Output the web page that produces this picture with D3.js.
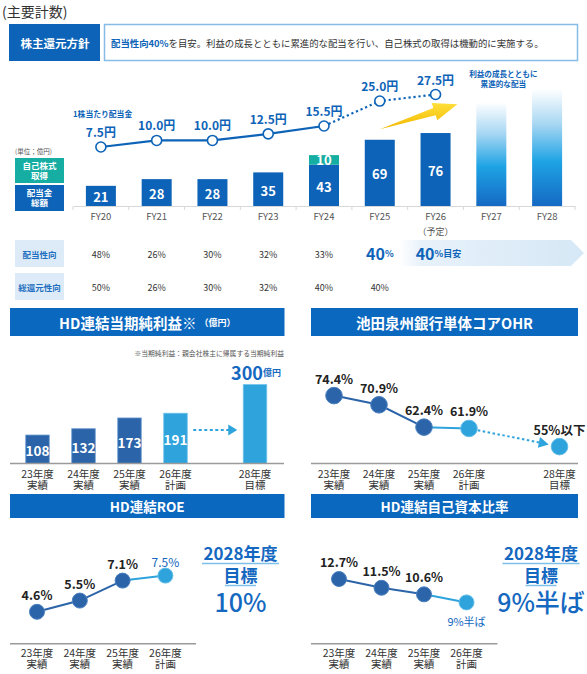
<!DOCTYPE html>
<html>
<head>
<meta charset="utf-8">
<script src="https://cdn.jsdelivr.net/npm/d3@7"></script>
<style>
  body { margin: 0; background: #fff; }
  svg { display: block; font-family: "Noto Sans CJK JP", "Noto Sans", sans-serif; }
</style>
</head>
<body>
<div id="chart"></div>
<script>
// ---- data ----
const fyLabels = ['FY20', 'FY21', 'FY22', 'FY23', 'FY24', 'FY25', 'FY26', 'FY27', 'FY28'];
const dividendTotal = [21, 28, 28, 35, 43, 69, 76]; // 配当金総額 (億円)
const buyback = [0, 0, 0, 0, 10, 0, 0]; // 自己株式取得 (億円)
const futureBars = [108, 122]; // FY27, FY28 illustrative (累進的な配当)
const dps = [7.5, 10.0, 10.0, 12.5, 15.5, 25.0, 27.5]; // 1株当たり配当金 (円)
const payoutRatio = [48, 26, 30, 32, 33, 40];
const totalReturnRatio = [50, 26, 30, 32, 40, 40];
const payoutTarget = 40;

const fiscalYears = [23, 24, 25, 26, 28];
const yearSub = ['実績', '実績', '実績', '計画', '目標'];
const netIncome = [108, 132, 173, 191, 300];
const ohr = [74.4, 70.9, 62.4, 61.9, 55];
const ohrLabels = ['74.4%', '70.9%', '62.4%', '61.9%', '55%以下'];
const roe = [4.6, 5.5, 7.1, 7.5];
const roeLabels = ['4.6%', '5.5%', '7.1%', '7.5%'];
const equityRatio = [12.7, 11.5, 10.6, 9.5];
const equityLabels = ['12.7%', '11.5%', '10.6%', '9%半ば'];

// ---- colours ----
const blue = '#0d63b7';
const teal = '#16ada3';
const titleBlue = '#0b68bf';
const darkPt = '#2b64a8';
const lightPt = '#2ea3dc';
const textBlue = '#1468c0';

const W = 587, H = 674;
const svg = d3.select('#chart').append('svg').attr('width', W).attr('height', H);
const defs = svg.append('defs');

const fg = defs.append('linearGradient').attr('id', 'futureGrad')
  .attr('x1', 0).attr('y1', 0).attr('x2', 0).attr('y2', 1);
[[0, '#ffffff'], [0.3, '#a8d7f3'], [0.62, '#1ea3e4'], [1, '#1569c3']]
  .forEach(([o, c]) => fg.append('stop').attr('offset', o).attr('stop-color', c));

const bg = defs.append('linearGradient').attr('id', 'bandGrad')
  .attr('x1', 0).attr('y1', 0).attr('x2', 1).attr('y2', 0);
[[0, '#ffffff'], [0.12, '#e7f1fa'], [1, '#d6e8f6']]
  .forEach(([o, c]) => bg.append('stop').attr('offset', o).attr('stop-color', c));

const yg = defs.append('linearGradient').attr('id', 'arrowGrad')
  .attr('x1', 0).attr('y1', 0).attr('x2', 0).attr('y2', 1);
[[0, '#ffdf3a'], [1, '#f3b900']]
  .forEach(([o, c]) => yg.append('stop').attr('offset', o).attr('stop-color', c));

// ---- header ----
svg.append('text').attr('x', 2).attr('y', 11).attr('dominant-baseline', 'central')
  .attr('font-size', 14).attr('fill', '#333').text('(主要計数)');

svg.append('rect').attr('x', 9).attr('y', 24).attr('width', 91).attr('height', 37).attr('fill', blue);
svg.append('text').attr('x', 55).attr('y', 43).attr('text-anchor', 'middle')
  .attr('dominant-baseline', 'central').attr('font-size', 11.5).attr('font-weight', 'bold')
  .attr('fill', '#fff').text('株主還元方針');
svg.append('rect').attr('x', 104.5).attr('y', 24.5).attr('width', 473).attr('height', 36)
  .attr('fill', '#fff').attr('stroke', '#86bde6').attr('stroke-width', 1.5);
const policy = svg.append('text').attr('x', 111).attr('y', 43).attr('dominant-baseline', 'central')
  .attr('font-size', 9.4).attr('fill', '#333');
policy.append('tspan').attr('fill', blue).attr('font-weight', 'bold').text('配当性向40%');
policy.append('tspan').text('を目安。利益の成長とともに累進的な配当を行い、自己株式の取得は機動的に実施する。');

// ---- top chart ----
const xTop = d3.scaleBand().domain(fyLabels).range([73, 575]);
const cx = (d) => xTop(d) + xTop.bandwidth() / 2;
const barW = 30;
const yBar = d3.scaleLinear().domain([0, 100]).range([206, 110]);
const yDps = d3.scaleLinear().domain([7.5, 27.5]).range([147, 94.5]);

const topG = svg.append('g');

// axis
const axis = topG.append('g').attr('transform', `translate(0,${yBar(0)})`)
  .call(d3.axisBottom(xTop).tickSize(0).tickPadding(7));
axis.select('.domain').attr('stroke', '#d8d8d8');
axis.selectAll('text').attr('font-size', 9.5).attr('fill', '#555')
  .attr('font-family', '"Noto Sans CJK JP", sans-serif');
topG.append('g').selectAll('line').data(fyLabels.concat(['end']))
  .join('line')
  .attr('x1', (d) => d === 'end' ? xTop.range()[1] : xTop(d))
  .attr('x2', (d) => d === 'end' ? xTop.range()[1] : xTop(d))
  .attr('y1', yBar(0)).attr('y2', yBar(0) + 4)
  .attr('stroke', '#d8d8d8');
topG.append('text').attr('x', cx('FY26')).attr('y', 231).attr('text-anchor', 'middle')
  .attr('dominant-baseline', 'central').attr('font-size', 9).attr('fill', '#555').text('（予定）');

// bars
const barData = dividendTotal.map((v, i) => ({ fy: fyLabels[i], div: v, bb: buyback[i] }));
topG.append('g').selectAll('rect').data(barData).join('rect')
  .attr('x', (d) => cx(d.fy) - barW / 2).attr('width', barW)
  .attr('y', (d) => yBar(d.div)).attr('height', (d) => yBar(0) - yBar(d.div))
  .attr('fill', blue);
topG.append('g').selectAll('rect').data(barData.filter((d) => d.bb > 0)).join('rect')
  .attr('x', (d) => cx(d.fy) - barW / 2).attr('width', barW)
  .attr('y', (d) => yBar(d.div + d.bb)).attr('height', (d) => yBar(d.div) - yBar(d.div + d.bb))
  .attr('fill', teal);
topG.append('g').selectAll('rect').data(futureBars).join('rect')
  .attr('x', (d, i) => cx(fyLabels[7 + i]) - barW / 2).attr('width', barW)
  .attr('y', (d) => yBar(d)).attr('height', (d) => yBar(0) - yBar(d))
  .attr('fill', 'url(#futureGrad)');

const barLabel = topG.append('g').attr('font-size', 13).attr('font-weight', 'bold')
  .attr('fill', '#fff').attr('text-anchor', 'middle').attr('dominant-baseline', 'central');
barLabel.selectAll('text.div').data(barData).join('text').attr('class', 'div')
  .attr('x', (d) => cx(d.fy)).attr('y', (d) => (yBar(d.div) + yBar(0)) / 2 + 1)
  .text((d) => d.div);
barLabel.selectAll('text.bb').data(barData.filter((d) => d.bb > 0)).join('text').attr('class', 'bb')
  .attr('x', (d) => cx(d.fy)).attr('y', (d) => (yBar(d.div + d.bb) + yBar(d.div)) / 2)
  .text((d) => d.bb);

// yellow arrow
(function () {
  const tail = [cx('FY25'), yBar(80)];
  const tip = [cx('FY27') - 34, yBar(106)];
  const dx = tip[0] - tail[0], dy = tip[1] - tail[1];
  const L = Math.hypot(dx, dy);
  const u = [dx / L, dy / L], n = [-u[1], u[0]];
  const b = [tip[0] - u[0] * 24, tip[1] - u[1] * 24];
  const p = (k) => [b[0] + n[0] * k, b[1] + n[1] * k];
  topG.append('path')
    .attr('d', 'M' + [tail, p(-3.8), p(-9), tip, p(9), p(3.8)].map((q) => q.join(',')).join('L') + 'Z')
    .attr('fill', 'url(#arrowGrad)');
})();

// DPS line
const lineGen = d3.line().x((d) => d.x).y((d) => d.y);
const dpsPts = dps.map((v, i) => ({ x: cx(fyLabels[i]), y: yDps(v), v }));
topG.append('path').attr('d', lineGen(dpsPts.slice(0, 5)))
  .attr('fill', 'none').attr('stroke', blue).attr('stroke-width', 2.2);
topG.append('path').attr('d', lineGen(dpsPts.slice(4)))
  .attr('fill', 'none').attr('stroke', blue).attr('stroke-width', 2.2)
  .attr('stroke-dasharray', '2.2,2.8');
topG.append('g').selectAll('circle').data(dpsPts).join('circle')
  .attr('cx', (d) => d.x).attr('cy', (d) => d.y).attr('r', 5)
  .attr('fill', '#fff').attr('stroke', blue).attr('stroke-width', 1.6);
topG.append('g').selectAll('text').data(dpsPts).join('text')
  .attr('x', (d) => d.x).attr('y', (d) => d.y - 15.5).attr('text-anchor', 'middle')
  .attr('dominant-baseline', 'central').attr('font-size', 12).attr('font-weight', 'bold')
  .attr('fill', blue).text((d) => d.v.toFixed(1) + '円');
topG.append('text').attr('x', xTop.range()[0]).attr('y', 113).attr('dominant-baseline', 'central')
  .attr('font-size', 7.8).attr('font-weight', 'bold').attr('fill', blue).text('1株当たり配当金');

const note2 = topG.append('text').attr('text-anchor', 'middle')
  .attr('font-size', 7.6).attr('font-weight', 'bold').attr('fill', blue);
note2.append('tspan').attr('x', cx('FY27') + 12).attr('y', 77).text('利益の成長とともに');
note2.append('tspan').attr('x', cx('FY27') + 12).attr('y', 87).text('累進的な配当');

// legend boxes
topG.append('text').attr('x', 15).attr('y', 151).attr('dominant-baseline', 'central')
  .attr('font-size', 6.5).attr('fill', '#555').text('(単位；億円)');
function legendBox(y, h, fill, lines) {
  topG.append('rect').attr('x', 15).attr('y', y).attr('width', 49).attr('height', h).attr('fill', fill);
  const t = topG.append('text').attr('text-anchor', 'middle')
    .attr('font-size', 8.5).attr('font-weight', 'bold').attr('fill', '#fff');
  lines.forEach((s, i) => {
    t.append('tspan').attr('x', 39.5)
      .attr('y', y + h / 2 + 3 + (i - (lines.length - 1) / 2) * 10).text(s);
  });
}
legendBox(158, 25, teal, ['自己株式', '取得']);
legendBox(185, 26, blue, ['配当金', '総額']);

// ratio rows
function rowLabel(y, h, t) {
  topG.append('rect').attr('x', 15).attr('y', y).attr('width', 49).attr('height', h).attr('fill', '#dcebf7');
  topG.append('text').attr('x', 39.5).attr('y', y + h / 2).attr('text-anchor', 'middle')
    .attr('dominant-baseline', 'central').attr('font-size', 8.5).attr('font-weight', 'bold')
    .attr('fill', '#1f6fc0').text(t);
}
rowLabel(240, 27, '配当性向');
rowLabel(273, 27, '総還元性向');

const bandX0 = xTop('FY26') - 8, bandX1 = W - 3;
topG.append('path')
  .attr('d', `M${bandX0},240L${bandX1 - 13},240L${bandX1},253L${bandX1 - 13},266L${bandX0},266Z`)
  .attr('fill', 'url(#bandGrad)');

topG.append('g').selectAll('text').data(payoutRatio.slice(0, 5)).join('text')
  .attr('x', (d, i) => cx(fyLabels[i])).attr('y', 254).attr('text-anchor', 'middle')
  .attr('dominant-baseline', 'central').attr('font-size', 9).attr('fill', '#333')
  .text((d) => d + '%');
const big40 = topG.append('text').attr('x', cx('FY25')).attr('y', 253).attr('text-anchor', 'middle')
  .attr('dominant-baseline', 'central').attr('font-weight', 'bold').attr('fill', blue);
big40.append('tspan').attr('font-size', 16).text(payoutRatio[5]);
big40.append('tspan').attr('font-size', 9).text('%');
const tgt = topG.append('text').attr('x', xTop('FY26') + 8).attr('y', 253)
  .attr('dominant-baseline', 'central').attr('font-weight', 'bold').attr('fill', blue);
tgt.append('tspan').attr('font-size', 16).text(payoutTarget);
tgt.append('tspan').attr('font-size', 9).text('%目安');

topG.append('g').selectAll('text').data(totalReturnRatio).join('text')
  .attr('x', (d, i) => cx(fyLabels[i])).attr('y', 287).attr('text-anchor', 'middle')
  .attr('dominant-baseline', 'central').attr('font-size', 9).attr('fill', '#333')
  .text((d) => d + '%');

// ---- lower panels ----
function titleBar(x0, x1, y0, y1, main, sub, size) {
  svg.append('rect').attr('x', x0).attr('y', y0).attr('width', x1 - x0).attr('height', y1 - y0)
    .attr('fill', titleBlue);
  const t = svg.append('text').attr('x', (x0 + x1) / 2).attr('y', (y0 + y1) / 2)
    .attr('text-anchor', 'middle').attr('dominant-baseline', 'central')
    .attr('font-weight', 'bold').attr('fill', '#fff');
  t.append('tspan').attr('font-size', size).text(main);
  if (sub) t.append('tspan').attr('font-size', 9).attr('dx', 3).text(sub);
}

function baseline(x0, x1, y) {
  svg.append('line').attr('x1', x0).attr('x2', x1).attr('y1', y).attr('y2', y)
    .attr('stroke', '#9a9a9a').attr('stroke-width', 1.5);
}

function yearTicks(x, years, y) {
  const g = svg.append('g').attr('font-size', 10.5).attr('fill', '#333')
    .attr('text-anchor', 'middle');
  years.forEach((yr) => {
    const t = g.append('text');
    t.append('tspan').attr('x', x(yr)).attr('y', y + 4).text(yr + '年度');
    t.append('tspan').attr('x', x(yr)).attr('y', y + 15).text(yearSub[fiscalYears.indexOf(yr)]);
  });
}

function arrowHead(g, tipX, tipY, color) {
  g.append('path').attr('d', `M${tipX},${tipY}L${tipX - 9},${tipY - 5.5}L${tipX - 9},${tipY + 5.5}Z`)
    .attr('fill', color);
}

const lg = d3.line();

// Panel 1: HD連結当期純利益
titleBar(10, 284.5, 308, 336, 'HD連結当期純利益※', '（億円）', 14.5);
svg.append('text').attr('x', 284).attr('y', 353).attr('text-anchor', 'end')
  .attr('dominant-baseline', 'central').attr('font-size', 6.8).attr('fill', '#555')
  .text('※当期純利益：親会社株主に帰属する当期純利益');
const x1 = d3.scaleLinear().domain([23, 26, 28]).range([37.5, 175.5, 255]);
const y1 = d3.scaleLinear().domain([0, 300]).range([463.4, 384.6]);
const bw1 = 23.5;
const p1 = svg.append('g');
p1.selectAll('rect').data(netIncome).join('rect')
  .attr('x', (d, i) => x1(fiscalYears[i]) - bw1 / 2).attr('width', bw1)
  .attr('y', (d) => y1(d)).attr('height', (d) => y1(0) - y1(d))
  .attr('fill', (d, i) => i < 3 ? darkPt : lightPt)
  .attr('stroke', (d, i) => i < 3 ? '#6d9bd1' : '#6cc2ea').attr('stroke-width', 0.8);
p1.selectAll('text').data(netIncome.slice(0, 4)).join('text')
  .attr('x', (d, i) => x1(fiscalYears[i])).attr('y', (d) => (y1(d) + y1(0)) / 2 + 1)
  .attr('text-anchor', 'middle').attr('dominant-baseline', 'central')
  .attr('font-size', 13.5).attr('font-weight', 'bold').attr('fill', '#fff').text((d) => d);
const t300 = p1.append('text').attr('x', x1(28) + 1).attr('y', y1(300) - 13)
  .attr('text-anchor', 'middle').attr('dominant-baseline', 'central')
  .attr('font-weight', 'bold').attr('fill', textBlue);
t300.append('tspan').attr('font-size', 18).text(netIncome[4]);
t300.append('tspan').attr('font-size', 9).text('億円');
const arrY1 = y1(127);
p1.append('line').attr('x1', x1(26) + bw1 / 2 + 6).attr('x2', x1(28) - bw1 / 2 - 14)
  .attr('y1', arrY1).attr('y2', arrY1).attr('stroke', lightPt).attr('stroke-width', 2)
  .attr('stroke-dasharray', '3,2.5');
arrowHead(p1, x1(28) - bw1 / 2 - 6, arrY1, lightPt);
baseline(10, 284, 463.4);
yearTicks(x1, fiscalYears, 473.5);

// Panel 2: OHR
titleBar(311, 578, 308, 336, '池田泉州銀行単体コアOHR', null, 14.5);
const x2 = d3.scaleLinear().domain([23, 26, 28]).range([334, 469, 559.5]);
const y2 = d3.scaleLinear().domain([55, 74.4]).range([446.6, 395.6]);
const p2 = svg.append('g');
const ohrPts = ohr.map((v, i) => [x2(fiscalYears[i]), y2(v)]);
p2.append('path').attr('d', lg(ohrPts.slice(0, 3))).attr('fill', 'none')
  .attr('stroke', darkPt).attr('stroke-width', 2);
p2.append('path').attr('d', lg(ohrPts.slice(2, 4))).attr('fill', 'none')
  .attr('stroke', lightPt).attr('stroke-width', 2);
(function () {
  const a = ohrPts[3], b = ohrPts[4];
  const dx = b[0] - a[0], dy = b[1] - a[1], L = Math.hypot(dx, dy);
  const u = [dx / L, dy / L];
  const tip = [b[0] - u[0] * 11, b[1] - u[1] * 11];
  const base = [tip[0] - u[0] * 10, tip[1] - u[1] * 10];
  p2.append('path').attr('d', lg([[a[0] + u[0] * 9, a[1] + u[1] * 9], base])).attr('fill', 'none')
    .attr('stroke', lightPt).attr('stroke-width', 2).attr('stroke-dasharray', '2.5,2.5');
  const n = [-u[1], u[0]];
  p2.append('path').attr('d', `M${tip}L${base[0] + n[0] * 5.5},${base[1] + n[1] * 5.5}L${base[0] - n[0] * 5.5},${base[1] - n[1] * 5.5}Z`)
    .attr('fill', lightPt);
})();
p2.selectAll('circle').data(ohrPts).join('circle')
  .attr('cx', (d) => d[0]).attr('cy', (d) => d[1]).attr('r', 8.3)
  .attr('fill', (d, i) => i < 3 ? darkPt : lightPt)
  .attr('stroke', (d, i) => i < 3 ? '#4a80c0' : '#62bde8').attr('stroke-width', 1);
p2.selectAll('text').data(ohrPts).join('text')
  .attr('x', (d) => d[0]).attr('y', (d) => d[1] - 17.5)
  .attr('text-anchor', 'middle').attr('dominant-baseline', 'central')
  .attr('font-size', 12.5).attr('font-weight', 'bold').attr('fill', '#222')
  .text((d, i) => ohrLabels[i]);
baseline(311, 578, 463.4);
yearTicks(x2, fiscalYears, 473.5);

// Panel 3: ROE
titleBar(10, 284.5, 494, 518, 'HD連結ROE', null, 13.5);
const x3 = d3.scaleLinear().domain([23, 26]).range([37, 165.4]);
const y3 = d3.scaleLinear().domain([4.6, 7.5]).range([611.8, 575.6]);
const p3 = svg.append('g');
const roePts = roe.map((v, i) => [x3(fiscalYears[i]), y3(v)]);
p3.append('path').attr('d', lg(roePts.slice(0, 3))).attr('fill', 'none')
  .attr('stroke', darkPt).attr('stroke-width', 2);
p3.append('path').attr('d', lg(roePts.slice(2))).attr('fill', 'none')
  .attr('stroke', lightPt).attr('stroke-width', 2);
p3.selectAll('circle').data(roePts).join('circle')
  .attr('cx', (d) => d[0]).attr('cy', (d) => d[1]).attr('r', 7.5)
  .attr('fill', (d, i) => i < 3 ? darkPt : lightPt)
  .attr('stroke', (d, i) => i < 3 ? '#4a80c0' : '#62bde8').attr('stroke-width', 1);
p3.selectAll('text').data(roePts).join('text')
  .attr('x', (d) => d[0]).attr('y', (d, i) => d[1] - (i < 3 ? 17.5 : 14.5))
  .attr('text-anchor', 'middle').attr('dominant-baseline', 'central')
  .attr('font-size', (d, i) => i < 3 ? 12.5 : 12)
  .attr('font-weight', (d, i) => i < 3 ? 'bold' : 'normal')
  .attr('fill', (d, i) => i < 3 ? '#222' : textBlue)
  .text((d, i) => roeLabels[i]);
baseline(10, 196, 643.7);
yearTicks(x3, fiscalYears.slice(0, 4), 652.8);

// Panel 4: 自己資本比率
titleBar(311, 578, 494, 518, 'HD連結自己資本比率', null, 13.5);
const x4 = d3.scaleLinear().domain([23, 26]).range([339, 466.5]);
const y4 = d3.scaleLinear().domain([9.5, 12.7]).range([602.4, 579]);
const p4 = svg.append('g');
const eqPts = equityRatio.map((v, i) => [x4(fiscalYears[i]), y4(v)]);
p4.append('path').attr('d', lg(eqPts.slice(0, 3))).attr('fill', 'none')
  .attr('stroke', darkPt).attr('stroke-width', 2);
p4.append('path').attr('d', lg(eqPts.slice(2))).attr('fill', 'none')
  .attr('stroke', lightPt).attr('stroke-width', 2);
p4.selectAll('circle').data(eqPts).join('circle')
  .attr('cx', (d) => d[0]).attr('cy', (d) => d[1]).attr('r', 7.5)
  .attr('fill', (d, i) => i < 3 ? darkPt : lightPt)
  .attr('stroke', (d, i) => i < 3 ? '#4a80c0' : '#62bde8').attr('stroke-width', 1);
p4.selectAll('text').data(eqPts).join('text')
  .attr('x', (d) => d[0]).attr('y', (d, i) => i < 3 ? d[1] - 17.5 : d[1] + 18.5)
  .attr('text-anchor', 'middle').attr('dominant-baseline', 'central')
  .attr('font-size', (d, i) => i < 3 ? 12.5 : 11)
  .attr('font-weight', (d, i) => i < 3 ? 'bold' : 'normal')
  .attr('fill', (d, i) => i < 3 ? '#222' : textBlue)
  .text((d, i) => equityLabels[i]);
baseline(311, 497.4, 643.7);
yearTicks(x4, fiscalYears.slice(0, 4), 652.8);

// 2028 targets
function target(cxT, u1, u2, value) {
  const g = svg.append('g').attr('fill', textBlue).attr('text-anchor', 'middle');
  const t = g.append('text').attr('font-weight', 'bold');
  t.append('tspan').attr('x', cxT).attr('y', 560).attr('font-size', 17).text('2028年度');
  t.append('tspan').attr('x', cxT).attr('y', 582).attr('font-size', 17).text('目標');
  t.append('tspan').attr('x', cxT).attr('y', 612).attr('font-size', 25).attr('font-weight', 500).text(value);
  g.append('line').attr('x1', cxT - u1).attr('x2', cxT + u1).attr('y1', 563.5).attr('y2', 563.5)
    .attr('stroke', '#7dc0ea').attr('stroke-width', 1.5);
  g.append('line').attr('x1', cxT - u2).attr('x2', cxT + u2).attr('y1', 585.5).attr('y2', 585.5)
    .attr('stroke', '#7dc0ea').attr('stroke-width', 1.5);
}
target(240.5, 38.5, 15.5, '10%');
target(541, 38.5, 15.5, '9%半ば');
</script>
</body>
</html>
